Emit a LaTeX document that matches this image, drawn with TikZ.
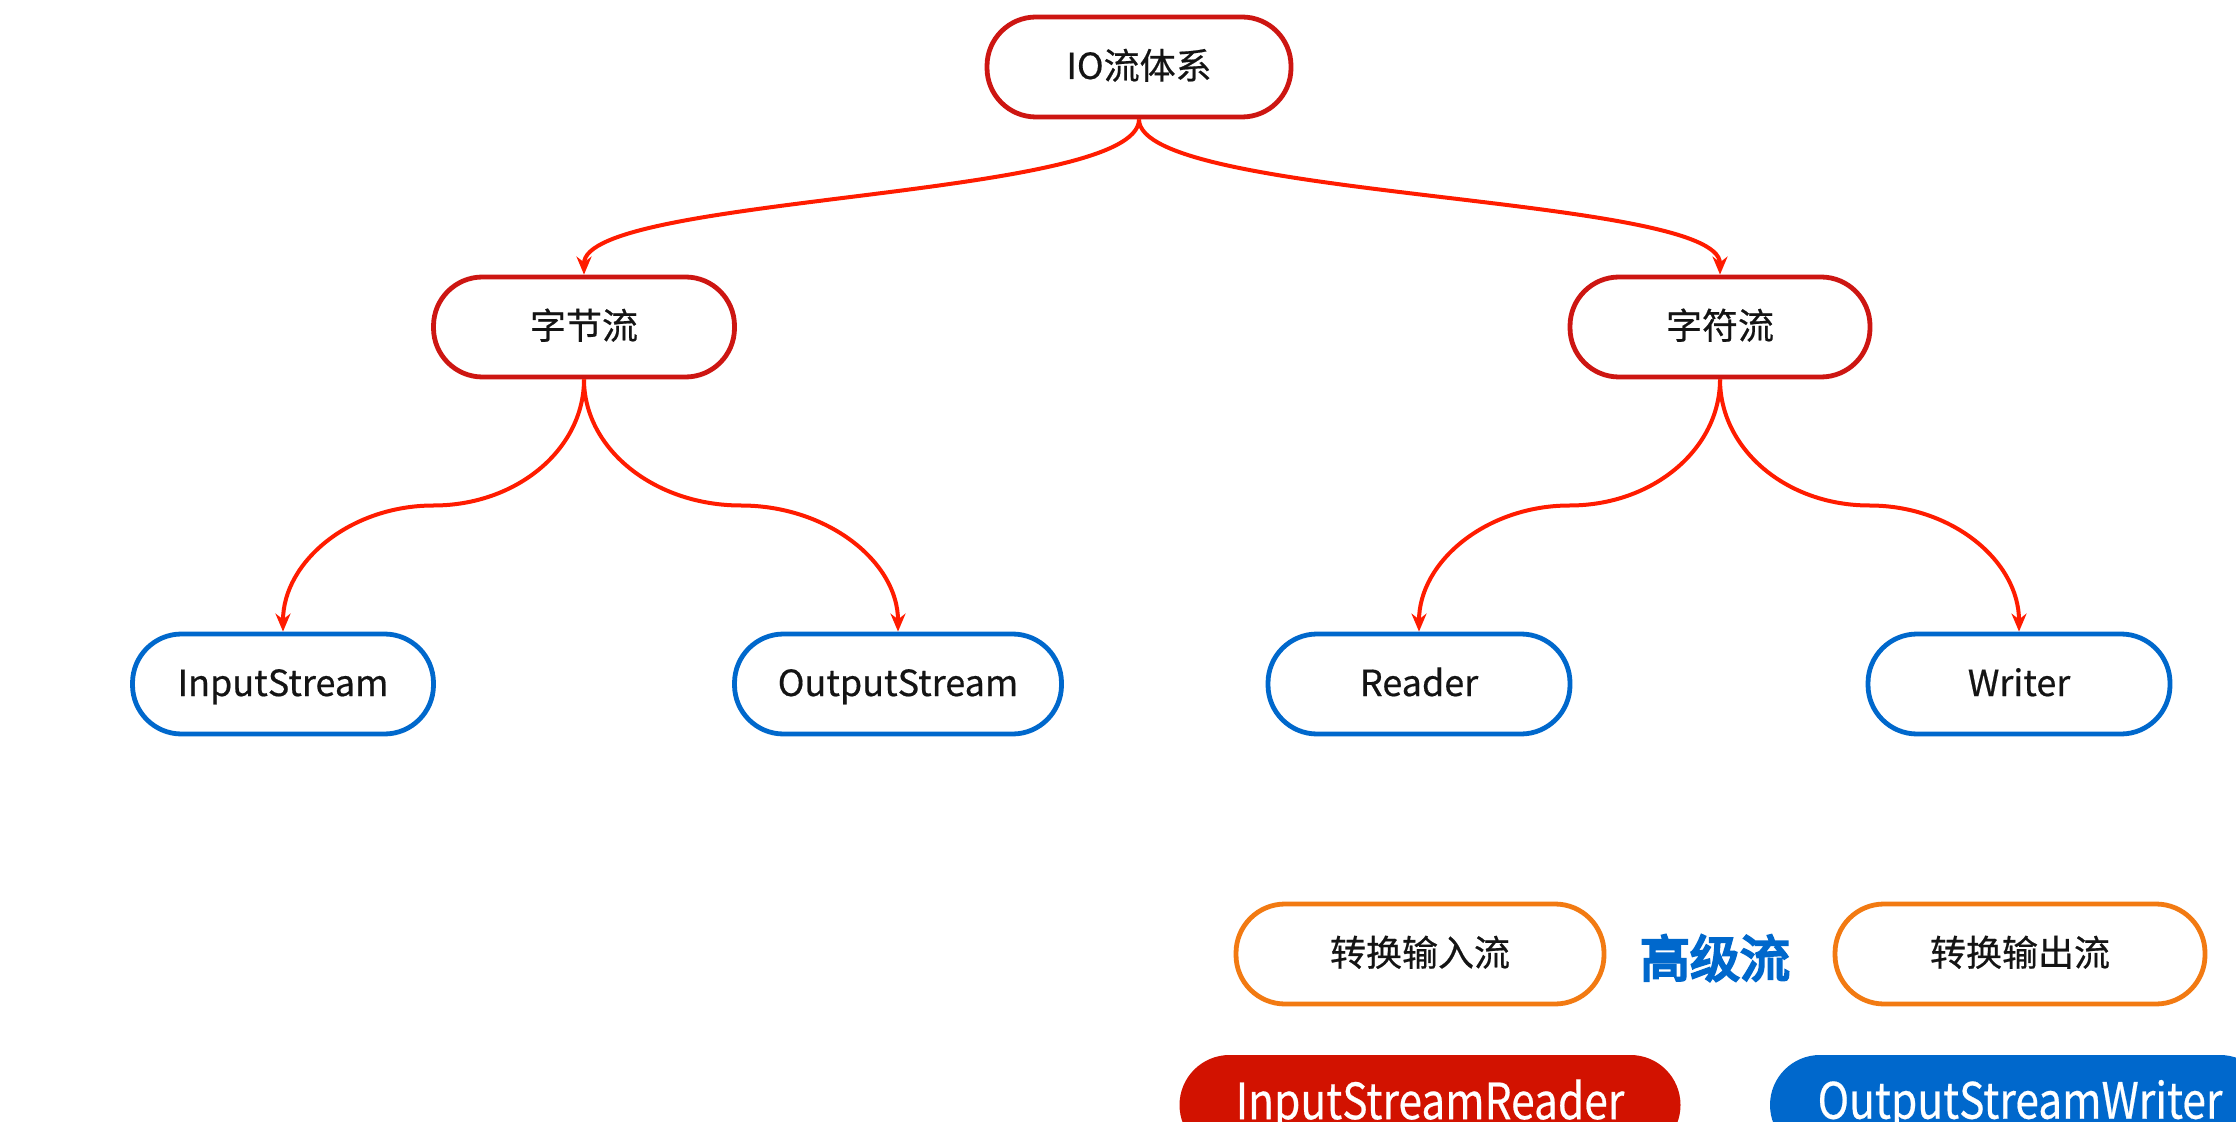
\documentclass[tikz,border=0pt]{standalone}
\usepackage{fontspec}
\setmainfont[FakeBold=0.5]{Noto Sans CJK SC}
\newfontfamily\condfont[FakeStretch=0.85,FakeBold=0.4]{Noto Sans CJK SC}
\newfontfamily\heavyfont[FakeBold=5]{Noto Sans CJK SC}
\usetikzlibrary{arrows.meta,calc}
\definecolor{boxred}{RGB}{205,22,18}
\definecolor{linered}{RGB}{255,28,0}
\definecolor{boxblue}{RGB}{0,104,204}
\definecolor{boxorange}{RGB}{242,122,18}
\definecolor{fillred}{RGB}{210,18,0}
\definecolor{txt}{RGB}{20,20,20}
\begin{document}
\begin{tikzpicture}[x=0.5pt,y=-0.5pt,
  pill/.style={draw, line width=2.4pt, rounded corners=24.5pt, minimum height=50pt,
    inner sep=0pt, fill=white, text=txt, text height=14.5pt, text depth=2.5pt,
    font=\fontsize{18}{20}\selectfont},
  redpill/.style={pill, draw=boxred},
  bluepill/.style={pill, draw=boxblue},
  orangepill/.style={pill, draw=boxorange},
  solidpill/.style={rounded corners=25pt, minimum height=50pt, inner sep=0pt,
    text=white, font=\condfont\fontsize{25}{28}\selectfont},
  conn/.style={draw=linered, line width=2pt, -{Stealth[length=9pt,width=7.5pt]}}]
\useasboundingbox (0,0) rectangle (2236,1122);
\clip (0,0) rectangle (2236,1122);
\fill[white] (0,0) rectangle (2236,1122);

\node[redpill, minimum width=152pt] (io) at (1139,67) {IO流体系};
\node[redpill, minimum width=150.5pt] (bytes) at (584,327) {字节流};
\node[redpill, minimum width=150pt] (chars) at (1720,327) {字符流};

\node[bluepill, minimum width=150.5pt] (is) at (283,684) {InputStream};
\node[bluepill, minimum width=163.5pt] (os) at (898,684) {OutputStream};
\node[bluepill, minimum width=151pt] (rd) at (1419,684) {Reader};
\node[bluepill, minimum width=151pt] (wr) at (2019,684) {Writer};

\node[orangepill, minimum width=184pt] (zi) at (1420,954) {转换输入流};
\node[orangepill, minimum width=185pt] (zo) at (2020,954) {转换输出流};
\node[text=boxblue, font=\heavyfont\fontsize{25}{28}\selectfont] (gj) at (1715,958) {高级流};

\node[solidpill, fill=fillred, minimum width=250.5pt] (isr) at (1430,1105) {InputStreamReader};
\node[solidpill, fill=boxblue, minimum width=250pt] (osw) at (2020,1105) {OutputStreamWriter};

% top level connectors
\draw[conn] (io.south) .. controls +(0,80) and +(0,-80) .. (bytes.north);
\draw[conn] (io.south) .. controls +(0,80) and +(0,-80) .. (chars.north);

% lower connectors: two quarter arcs each
\coordinate (m1) at ($(bytes.south)!0.5!(is.north)$);
\coordinate (m2) at ($(bytes.south)!0.5!(os.north)$);
\coordinate (m3) at ($(chars.south)!0.5!(rd.north)$);
\coordinate (m4) at ($(chars.south)!0.5!(wr.north)$);
\draw[conn] (bytes.south) .. controls +(0,70) and +(83,0) .. (m1) .. controls +(-83,0) and +(0,-70) .. (is.north);
\draw[conn] (bytes.south) .. controls +(0,70) and +(-86,0) .. (m2) .. controls +(86,0) and +(0,-70) .. (os.north);
\draw[conn] (chars.south) .. controls +(0,70) and +(83,0) .. (m3) .. controls +(-83,0) and +(0,-70) .. (rd.north);
\draw[conn] (chars.south) .. controls +(0,70) and +(-83,0) .. (m4) .. controls +(83,0) and +(0,-70) .. (wr.north);
\end{tikzpicture}
\end{document}
